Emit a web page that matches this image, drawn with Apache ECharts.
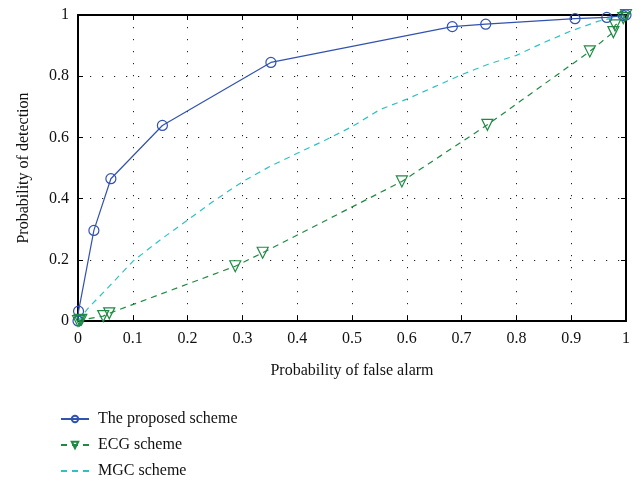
<!DOCTYPE html>
<html>
<head>
<meta charset="utf-8">
<script src="https://cdn.jsdelivr.net/npm/echarts@6/dist/echarts.min.js"></script>
<style>
  html, body { margin: 0; padding: 0; background: #fff; }
  #chart { width: 641px; height: 481px; }
</style>
</head>
<body>
<div id="chart"></div>
<script>
// [Pfa, Pd] pairs
const proposed = [
  [0, 0], [0.001, 0.032], [0.029, 0.296], [0.060, 0.465], [0.154, 0.639],
  [0.352, 0.845], [0.683, 0.962], [0.744, 0.970], [0.907, 0.988],
  [0.965, 0.992], [0.995, 0.998], [1, 1]
]
const ecg = [
  [0, 0], [0.003, 0.002], [0.006, 0.004], [0.046, 0.016], [0.057, 0.025],
  [0.287, 0.179], [0.337, 0.223], [0.591, 0.456], [0.747, 0.641],
  [0.934, 0.881], [0.977, 0.944], [0.980, 0.966], [0.995, 0.990], [1, 1]
]
const mgc = [
  [0, 0], [0.02, 0.045], [0.05, 0.10], [0.10, 0.195], [0.15, 0.265],
  [0.20, 0.33], [0.25, 0.395], [0.30, 0.455], [0.35, 0.505], [0.40, 0.548],
  [0.45, 0.59], [0.50, 0.635], [0.55, 0.69], [0.60, 0.725], [0.65, 0.765],
  [0.70, 0.805], [0.75, 0.84], [0.80, 0.868], [0.85, 0.91], [0.90, 0.948],
  [0.95, 0.98], [1, 1]
]
const seriesNames = ['The proposed scheme', 'ECG scheme', 'MGC scheme']

const FONT = 'Liberation Serif'
const BLUE = '#3252b0'
const GREEN = '#1f8a43'
const CYAN = '#2ec2c4'

const gridDots = { show: true, lineStyle: { color: '#222', width: 1, type: [1.2, 10.8] } }
const boxLine = { show: true, onZero: false, lineStyle: { color: '#000', width: 2 } }
const inTick = { show: true, inside: true, length: 5, lineStyle: { color: '#000', width: 1 } }
const label = { color: '#111', fontFamily: FONT, fontSize: 16 }

const chart = echarts.init(document.getElementById('chart'))
chart.setOption({
  backgroundColor: '#fff',
  animation: false,
  grid: { left: 78, right: 15, top: 15, bottom: 160 },
  legend: {
    orient: 'vertical',
    left: 55,
    top: 406,
    height: 120,
    itemWidth: 28,
    itemHeight: 8,
    itemGap: 10,
    textStyle: { color: '#111', fontFamily: FONT, fontSize: 16, padding: [0, 0, 0, 4] },
    data: [
      { name: seriesNames[0] },
      { name: seriesNames[1] },
      { name: seriesNames[2], itemStyle: { opacity: 0 } }
    ]
  },
  xAxis: [{
    type: 'value', min: 0, max: 1, interval: 0.1,
    name: 'Probability of false alarm', nameLocation: 'middle', nameGap: 42,
    nameTextStyle: { color: '#111', fontFamily: FONT, fontSize: 16 },
    axisLine: boxLine, axisTick: inTick,
    axisLabel: Object.assign({ margin: 10 }, label),
    splitLine: gridDots
  }, {
    type: 'value', min: 0, max: 1, interval: 0.1, position: 'top',
    axisLine: boxLine, axisTick: inTick, axisLabel: { show: false }, splitLine: { show: false }
  }],
  yAxis: [{
    type: 'value', min: 0, max: 1, interval: 0.2,
    name: 'Probability of detection', nameLocation: 'middle', nameGap: 46,
    nameTextStyle: { color: '#111', fontFamily: FONT, fontSize: 16 },
    axisLine: boxLine, axisTick: inTick,
    axisLabel: Object.assign({ margin: 9 }, label),
    splitLine: gridDots
  }, {
    type: 'value', min: 0, max: 1, interval: 0.2, position: 'right',
    axisLine: boxLine, axisTick: inTick, axisLabel: { show: false }, splitLine: { show: false }
  }],
  series: [{
    name: seriesNames[0], type: 'line', data: proposed, clip: false,
    symbol: 'circle', symbolSize: 10,
    lineStyle: { color: BLUE, width: 1.2 },
    itemStyle: { color: 'rgba(255,255,255,0)', borderColor: BLUE, borderWidth: 1.2 }
  }, {
    name: seriesNames[1], type: 'line', data: ecg, clip: false,
    symbol: 'triangle', symbolRotate: 180, symbolSize: 11,
    lineStyle: { color: GREEN, width: 1.2, type: [6, 5] },
    itemStyle: { color: 'rgba(255,255,255,0)', borderColor: GREEN, borderWidth: 1.2 }
  }, {
    name: seriesNames[2], type: 'line', data: mgc, clip: false,
    symbol: 'none', smooth: false,
    lineStyle: { color: CYAN, width: 1.2, type: [6, 5] },
    itemStyle: { color: CYAN }
  }]
})
</script>
</body>
</html>
